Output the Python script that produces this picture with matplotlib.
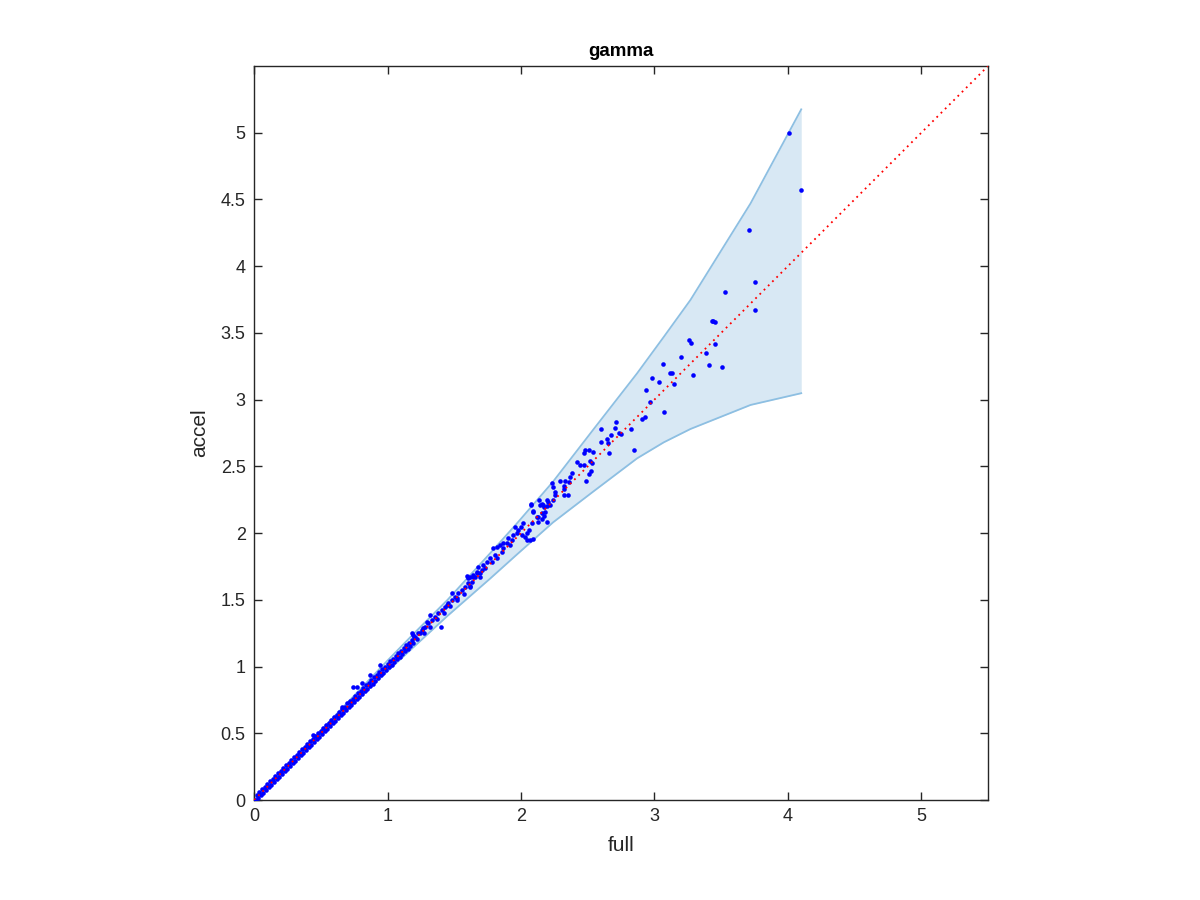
import numpy as np
import matplotlib.pyplot as plt

plt.rcParams['font.family'] = ['Liberation Sans', 'DejaVu Sans']

# ==========================================
# data
# ==========================================
# confidence band (x, upper, lower)
band_x     = [0, 0.5, 1.0, 1.2, 1.45, 1.77, 1.97, 2.24, 2.54, 2.87, 3.07, 3.27, 3.72, 4.1]
band_upper = [0, 0.52, 1.045, 1.25, 1.50, 1.85, 2.073, 2.385, 2.773, 3.197, 3.47, 3.747, 4.47, 5.175]
band_lower = [0, 0.49, 0.965, 1.15, 1.38, 1.66, 1.84, 2.08, 2.31, 2.56, 2.68, 2.78, 2.96, 3.048]

# dense part near the origin, two rows of points
full_low_a  = [0.02, 0.04, 0.06, 0.08, 0.10, 0.12, 0.14, 0.16, 0.18, 0.20, 0.22, 0.24, 0.26, 0.28, 0.30,
               0.32, 0.34, 0.36, 0.38, 0.40, 0.42, 0.44, 0.46, 0.48, 0.50, 0.52, 0.54, 0.56, 0.58, 0.60,
               0.62, 0.64, 0.66, 0.68, 0.70, 0.72, 0.74, 0.76, 0.78, 0.80, 0.82, 0.84, 0.86, 0.88, 0.90,
               0.92, 0.94, 0.96, 0.98, 1.00, 1.02, 1.04, 1.06, 1.08, 1.10, 1.12, 1.14, 1.16, 1.18, 1.20]
accel_low_a = [0.035, 0.06, 0.08, 0.10, 0.12, 0.14, 0.16, 0.18, 0.20, 0.22, 0.24, 0.26, 0.28, 0.30, 0.32,
               0.34, 0.36, 0.38, 0.40, 0.42, 0.44, 0.46, 0.48, 0.50, 0.52, 0.54, 0.56, 0.58, 0.60, 0.62,
               0.64, 0.66, 0.68, 0.70, 0.725, 0.74, 0.76, 0.78, 0.80, 0.82, 0.84, 0.86, 0.88, 0.90, 0.92,
               0.94, 0.96, 0.98, 1.00, 1.02, 1.04, 1.06, 1.08, 1.10, 1.12, 1.14, 1.16, 1.18, 1.20, 1.22]
full_low_b  = [0.01, 0.03, 0.05, 0.07, 0.09, 0.11, 0.13, 0.15, 0.17, 0.19, 0.21, 0.23, 0.25, 0.27, 0.29,
               0.31, 0.33, 0.35, 0.37, 0.39, 0.41, 0.43, 0.45, 0.47, 0.49, 0.51, 0.53, 0.55, 0.57, 0.59,
               0.61, 0.63, 0.65, 0.67, 0.69, 0.71, 0.73, 0.75, 0.77, 0.79, 0.81, 0.83, 0.85, 0.87, 0.89,
               0.91, 0.93, 0.95, 0.97, 0.99, 1.01, 1.03, 1.05, 1.07, 1.09, 1.11, 1.13, 1.15, 1.17, 1.19]
accel_low_b = [0.0, 0.015, 0.035, 0.055, 0.075, 0.095, 0.115, 0.135, 0.155, 0.175, 0.195, 0.215, 0.235, 0.255, 0.275,
               0.295, 0.315, 0.335, 0.355, 0.375, 0.395, 0.415, 0.435, 0.455, 0.475, 0.495, 0.515, 0.535, 0.555, 0.575,
               0.595, 0.615, 0.635, 0.655, 0.675, 0.695, 0.715, 0.735, 0.755, 0.775, 0.795, 0.815, 0.835, 0.855, 0.87,
               0.895, 0.915, 0.935, 0.955, 0.975, 0.995, 1.015, 1.035, 1.055, 1.075, 1.095, 1.115, 1.135, 1.155, 1.175]

full_mid  = [1.206, 1.231, 1.256, 1.281, 1.306, 1.331, 1.356, 1.381, 1.406, 1.431, 1.456, 1.481, 1.506, 1.531,
             1.556, 1.581, 1.606, 1.631, 1.643, 1.673, 1.399, 1.598, 1.481, 1.444, 1.319, 1.294, 1.519, 1.619,
             1.694, 1.181, 1.269, 1.244, 1.194, 1.22, 1.27, 1.32, 1.37, 1.42, 1.47, 1.52, 1.57, 1.62,
             0.744, 0.769, 0.806, 0.944, 0.869, 0.657, 0.719, 0.445]
accel_mid = [1.224, 1.249, 1.274, 1.299, 1.324, 1.349, 1.374, 1.399, 1.424, 1.449, 1.474, 1.499, 1.523, 1.549,
             1.574, 1.598, 1.624, 1.636, 1.673, 1.699, 1.294, 1.679, 1.549, 1.461, 1.386, 1.336, 1.511, 1.598,
             1.673, 1.249, 1.286, 1.249, 1.236, 1.205, 1.255, 1.30, 1.355, 1.40, 1.45, 1.50, 1.545, 1.60,
             0.844, 0.844, 0.879, 1.011, 0.936, 0.699, 0.737, 0.487]

full_upmid  = [1.956, 1.968, 1.943, 1.931, 1.906, 1.893, 1.918, 1.868, 1.843, 1.868, 1.818, 1.793, 1.856,
               1.806, 1.818, 1.768, 1.781, 1.744, 1.718, 1.731, 1.706, 1.681, 1.669, 1.694, 1.643, 1.656,
               1.619, 1.606, 2.081, 2.063, 2.048, 2.018, 1.998, 1.980, 2.006, 2.031, 2.068, 2.093, 2.043]
accel_upmid = [2.048, 1.998, 1.986, 1.948, 1.961, 1.923, 1.911, 1.923, 1.911, 1.886, 1.898, 1.886, 1.861,
               1.836, 1.811, 1.811, 1.786, 1.786, 1.761, 1.736, 1.723, 1.748, 1.711, 1.699, 1.686, 1.673,
               1.673, 1.661, 2.078, 2.023, 1.998, 2.073, 2.048, 2.023, 1.986, 1.973, 1.948, 1.954, 1.948]

full_high  = [2.076, 2.143, 2.168, 2.198, 2.218, 2.243, 2.256, 2.093, 2.123, 2.181, 2.156, 2.193, 2.131,
              2.136, 2.158, 2.171, 2.193, 2.205, 2.078, 2.088, 2.128, 2.158, 2.173, 2.235, 2.243, 2.253,
              2.385, 2.366, 2.330, 2.293, 2.358, 2.325, 2.323, 2.351, 2.321, 2.418, 2.443, 2.473, 2.515,
              2.533, 2.527, 2.510, 2.488, 2.483, 2.508, 2.475, 2.540, 2.660, 2.850, 2.677, 2.647, 2.650,
              2.600, 2.733, 2.748]
accel_high = [2.220, 2.211, 2.211, 2.248, 2.211, 2.248, 2.286, 2.160, 2.123, 2.160, 2.103, 2.085, 2.085,
              2.248, 2.216, 2.198, 2.203, 2.235, 2.210, 2.166, 2.123, 2.148, 2.128, 2.373, 2.343, 2.310,
              2.453, 2.418, 2.390, 2.388, 2.383, 2.353, 2.328, 2.288, 2.283, 2.535, 2.510, 2.510, 2.540,
              2.523, 2.467, 2.445, 2.393, 2.623, 2.623, 2.602, 2.605, 2.602, 2.623, 2.737, 2.705, 2.677,
              2.680, 2.752, 2.740]

full_top  = [4.009, 4.10, 3.709, 3.754, 3.532, 3.754, 3.429, 3.442, 3.454, 3.26, 3.275, 3.452, 3.383, 3.202,
             3.064, 3.406, 3.503, 3.117, 3.13, 3.292, 2.982, 3.035, 3.15, 2.937, 2.965, 3.072, 2.93, 2.905,
             2.709, 2.703, 2.825, 2.6]
accel_top = [4.996, 4.57, 4.27, 3.879, 3.81, 3.674, 3.589, 3.591, 3.578, 3.447, 3.422, 3.418, 3.352, 3.32,
             3.267, 3.262, 3.245, 3.197, 3.201, 3.185, 3.159, 3.132, 3.12, 3.069, 2.984, 2.904, 2.873, 2.857,
             2.832, 2.789, 2.782, 2.777]

lims = [0, 5.5]
x_ticks = [0, 1, 2, 3, 4, 5]
y_ticks = [0, 0.5, 1, 1.5, 2, 2.5, 3, 3.5, 4, 4.5, 5]
y_tick_labels = ["0", "0.5", "1", "1.5", "2", "2.5", "3", "3.5", "4", "4.5", "5"]

full = np.concatenate([full_low_a, full_low_b, full_mid, full_upmid, full_high, full_top])
accel = np.concatenate([accel_low_a, accel_low_b, accel_mid, accel_upmid, accel_high, accel_top])

# ==========================================
# plot
# ==========================================
fig = plt.figure(figsize=(12, 9), dpi=100)
ax = fig.add_axes([0.2117, 0.1111, 0.6117, 0.8156])

band_edge = "#8dbfe2"
ax.fill_between(band_x, band_lower, band_upper, color="#d8e8f4", linewidth=0, zorder=1)
ax.plot(band_x, band_upper, color=band_edge, linewidth=1.3, zorder=2)
ax.plot(band_x, band_lower, color=band_edge, linewidth=1.3, zorder=2)

ax.plot(full, accel, linestyle="none", marker="o", markersize=3.3, markeredgewidth=0,
        color="#0000ff", zorder=3)
ax.plot(lims, lims, color="#ff0000", linewidth=1.3, dashes=(1, 2.3), zorder=4)

ax.set_xlim(lims)
ax.set_ylim(lims)
ax.set_xticks(x_ticks)
ax.set_yticks(y_ticks)
ax.set_yticklabels(y_tick_labels)

ax.tick_params(direction="in", length=6, width=1, colors="#262626", labelsize=13,
               top=True, right=True, pad=6)
for s in ax.spines.values():
    s.set_color("#262626")
    s.set_linewidth(1)

ax.set_xlabel("full", fontsize=15, color="#262626", labelpad=8)
ax.set_ylabel("accel", fontsize=15, color="#262626", labelpad=8)
ax.set_title("gamma", fontsize=13.5, fontweight="bold", pad=7)

plt.savefig("out.png", dpi=100)
